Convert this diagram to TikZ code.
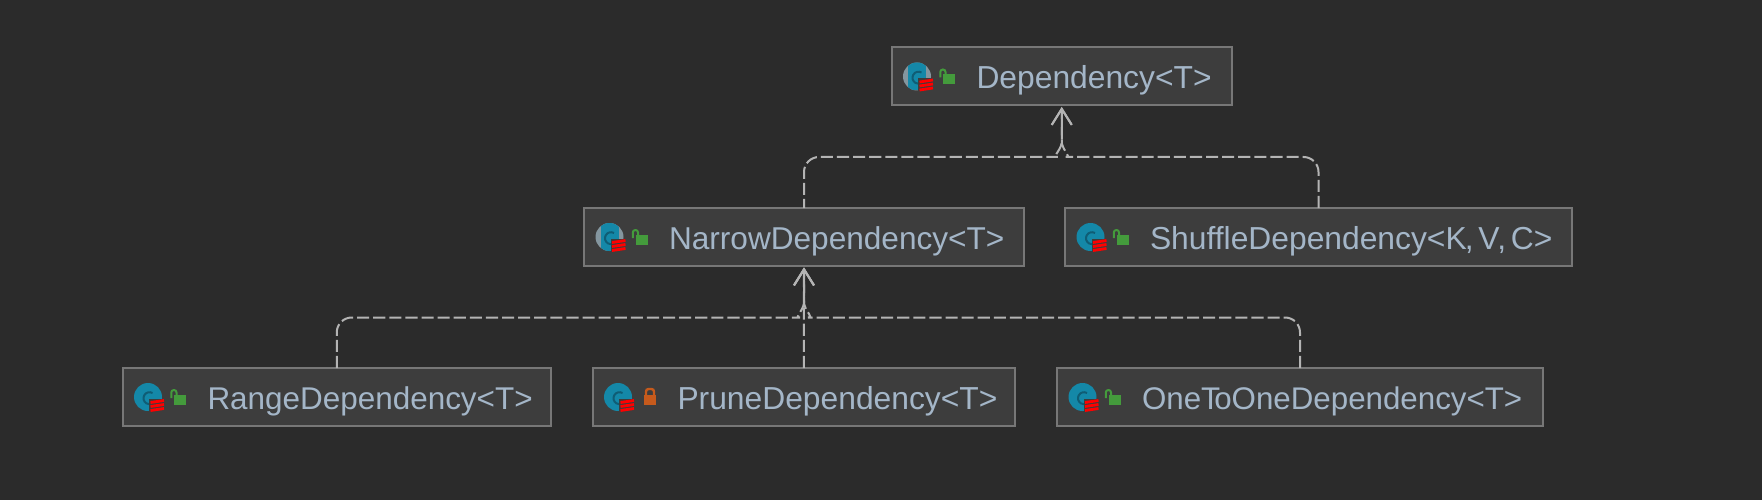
\documentclass[tikz,border=0pt]{standalone}
\usepackage{fontspec}
\setmainfont{Liberation Sans}
\usetikzlibrary{calc}
\usetikzlibrary{arrows.meta}
\definecolor{bgdark}{HTML}{2B2B2B}
\definecolor{boxfill}{HTML}{3D3D3D}
\definecolor{boxline}{HTML}{777777}
\definecolor{linkgray}{HTML}{B4B4B4}
\definecolor{textblue}{HTML}{A4B6C8}
\definecolor{iconteal}{HTML}{1488A8}
\definecolor{icongray}{HTML}{84969F}
\definecolor{iconink}{HTML}{0F5D75}
\definecolor{lockgreen}{HTML}{449B3C}
\definecolor{lockorange}{HTML}{C65A1C}
\tikzset{
  depbox/.style={draw=boxline, line width=2pt, fill=boxfill, text=textblue, anchor=west,
    text width=#1, inner sep=0pt, outer sep=0pt, minimum height=58pt, align=left,
    text height=32pt, text depth=7pt,
    font=\fontsize{31.8}{34}\selectfont, execute at begin node=\hspace*{85pt}},
  depline/.style={draw=linkgray, line width=2pt, dash pattern=on 12.1pt off 4pt, shorten >=1.5pt,
    -{Straight Barb[length=16pt,width=20pt,line width=2pt]}},
  redbar/.style={draw=red, line width=2.8pt},
  classicon/.pic={
    \fill[iconteal] (25.5,0) circle (14);
  },
  abstracticon/.pic={
    \fill[icongray] (25.5,0) circle (14);
    \clip (25.5,0) circle (14);
    \fill[iconteal] (16.5,-14) rectangle (34.5,14);
  },
  markicon/.pic={
    \draw[iconink, line width=2pt] (30,-4) arc (-60:-300:6) -- (29,5);
    \fill[boxfill] (26.5,1.5) rectangle (43,16);
    \foreach \y in {4.5,8.5,12.5}
      \draw[redbar] (28,\y+1) -- (41.5,\y-1);
  },
  openlock/.pic={
    \fill[lockgreen] (51.5,-2) rectangle (63.5,8);
    \draw[lockgreen, line width=2pt, rounded corners=2.5pt] (48.8,1) -- (48.8,-7) -- (54,-7) -- (54,-2);
  },
  shutlock/.pic={
    \fill[lockorange] (51.5,-2) rectangle (63.5,8);
    \draw[lockorange, line width=2.4pt, rounded corners=2.5pt] (53.5,-2) -- (53.5,-8) -- (61.5,-8) -- (61.5,-2);
  }
}

\begin{document}
\begin{tikzpicture}[x=1pt, y=-1pt]
\path[use as bounding box, fill=bgdark] (0,0) rectangle (1762,500);

\node[depbox=340.5pt] (dep) at (891.5,76.5) {Dependency<T>};
\node[depbox=440pt, font=\fontsize{31.6}{34}\selectfont] (narrow) at (584,237) {NarrowDependency<T>};
\node[depbox=507pt] (shuffle) at (1065,237) {\spaceskip=4.5pt ShuffleDependency<K\kern-1.8pt, V\kern-2pt, C>};
\node[depbox=428.5pt, font=\fontsize{31.45}{34}\selectfont] (range) at (122.5,397) {RangeDependency<T>};
\node[depbox=422.5pt] (prune) at (592.5,397) {PruneDependency<T>};
\node[depbox=486pt, font=\fontsize{31.3}{34}\selectfont] (one) at (1057,397) {OneT\kern-6pt oOneDependency<T>};

\foreach \kid/\dad/\sgn/\phs in {narrow/dep/-1/3, shuffle/dep/1/0, range/narrow/-1/0, one/narrow/1/0} {
 \draw[depline, dash phase=\phs pt] (\kid.north) [rounded corners=15pt] |- ($(\dad.south)+(\sgn*19,51.5)$) [sharp corners]
   .. controls ($(\dad.south)+(\sgn*10,51.5)$) and ($(\dad.south)+(\sgn*2,46.5)$) .. ($(\dad.south)+(0,37.5)$) -- (\dad.south);
}
\draw[depline] (prune.north) -- (narrow.south);

\foreach \cls in {dep, narrow} {
 \pic at (\cls.west) {abstracticon};
}
\foreach \cls in {shuffle, range, prune, one} {
 \pic at (\cls.west) {classicon};
}
\foreach \cls in {dep, narrow, shuffle, range, prune, one} {
 \pic at (\cls.west) {markicon};
}
\foreach \cls in {dep, narrow, shuffle, range, one} {
 \pic at (\cls.west) {openlock};
}
\pic at (prune.west) {shutlock};
\end{tikzpicture}
\end{document}
